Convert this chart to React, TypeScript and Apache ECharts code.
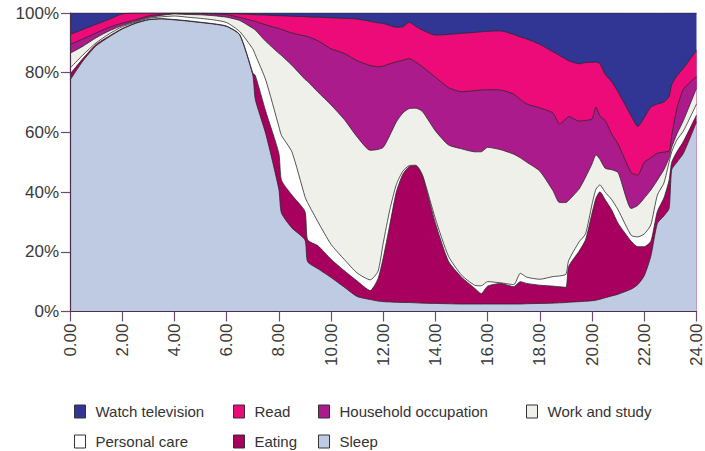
import React, { useEffect, useRef } from "react";
import * as echarts from "echarts";

const times = [0, 0.5, 1, 1.5, 2, 2.5, 3, 3.5, 4, 4.5, 5, 5.5, 6, 6.5, 7, 7.1, 7.5, 8, 8.1, 8.5, 9, 9.1, 9.5, 10, 10.5, 11, 11.5, 11.8, 12, 12.25, 12.5, 12.75, 13, 13.25, 13.5, 14, 14.5, 15, 15.5, 15.75, 16, 16.5, 17, 17.25, 17.5, 18, 18.5, 18.75, 19, 19.1, 19.5, 19.75, 20, 20.15, 20.3, 20.5, 20.75, 21, 21.5, 21.75, 22, 22.25, 22.5, 22.75, 22.95, 23.05, 23.25, 23.5, 24];

const sleep = [77.5, 84.0, 89.0, 92.0, 94.6, 96.5, 97.7, 98.0, 97.7, 97.3, 96.8, 96.3, 95.5, 92.7, 79.3, 71.0, 59.5, 41.0, 33.0, 28.0, 24.0, 16.7, 14.3, 11.4, 8.2, 5.0, 4.0, 3.5, 3.3, 3.2, 3.1, 3.0, 3.0, 2.9, 2.8, 2.7, 2.6, 2.5, 2.5, 2.5, 2.5, 2.5, 2.5, 2.5, 2.6, 2.7, 2.8, 2.9, 3.0, 3.1, 3.3, 3.4, 3.6, 3.8, 4.1, 4.6, 5.2, 5.8, 7.5, 9.0, 12.0, 18.5, 29.5, 32.0, 34.5, 47.5, 50.0, 53.0, 63.5];
const eating = [2.0, 0.8, 0.5, 0.3, 0.2, 0.1, 0.1, 0.1, 0.1, 0.1, 0.1, 0.1, 0.1, 0.1, 0.7, 8.0, 7.5, 12.0, 11.0, 11.0, 9.5, 7.3, 7.7, 6.1, 5.5, 5.2, 3.0, 7.5, 14.7, 25.8, 36.9, 43.0, 45.6, 45.9, 42.7, 26.8, 14.2, 9.0, 5.3, 3.5, 6.0, 6.9, 5.8, 7.5, 6.8, 6.1, 5.7, 5.4, 5.1, 11.9, 16.9, 20.6, 29.4, 34.2, 36.0, 32.9, 28.8, 23.7, 16.0, 12.7, 9.7, 5.0, 4.0, 6.0, 9.5, 2.5, 3.5, 4.0, 2.3];
const personalCare = [2.0, 1.2, 0.5, 0.7, 0.6, 0.3, 0.4, 0.6, 1.2, 1.2, 1.3, 1.3, 1.2, 1.0, 8.0, 7.0, 10.5, 9.0, 15.0, 14.5, 5.0, 12.5, 8.0, 5.0, 3.8, 2.7, 3.6, 2.5, 5.0, 5.0, 2.5, 1.0, 0.3, 0.2, 0.3, 1.5, 1.7, 0.7, 1.0, 2.6, 1.5, 0.2, 0.7, 2.8, 2.1, 2.0, 3.2, 3.6, 4.4, 2.0, 3.1, 2.0, 3.0, 3.0, 2.3, 2.5, 3.5, 4.5, 2.0, 3.3, 4.3, 5.5, 5.5, 5.0, 6.0, 3.5, 4.0, 3.5, 3.7];
const workStudy = [5.0, 2.9, 1.7, 1.0, 0.4, 0.3, 0.3, 0.5, 0.7, 0.9, 1.2, 1.4, 1.8, 3.7, 6.9, 8.3, 13.0, 24.5, 26.8, 29.0, 39.3, 40.6, 43.5, 46.7, 46.9, 45.6, 43.4, 40.8, 32.0, 25.0, 21.0, 19.5, 19.1, 19.1, 21.2, 29.5, 37.3, 42.3, 44.7, 44.9, 45.0, 44.6, 43.7, 38.7, 38.5, 36.2, 28.8, 24.6, 24.0, 20.2, 17.7, 19.0, 13.5, 11.5, 8.6, 8.0, 10.0, 12.5, 9.0, 10.5, 12.0, 11.7, 5.0, 4.5, 1.5, 1.5, 2.0, 3.5, 5.3];
const household = [3.0, 2.4, 1.6, 1.2, 0.8, 0.5, 0.5, 0.4, 0.2, 0.3, 0.4, 0.6, 0.9, 1.0, 2.5, 2.9, 5.5, 8.3, 8.7, 10.8, 14.5, 15.0, 17.2, 18.8, 22.1, 25.5, 28.4, 27.7, 27.2, 24.0, 20.1, 17.7, 16.7, 15.4, 15.0, 18.0, 19.2, 19.1, 20.5, 20.7, 19.3, 20.0, 20.1, 19.5, 19.5, 21.2, 26.0, 26.3, 28.0, 28.1, 22.8, 19.0, 15.0, 16.0, 14.5, 16.0, 12.0, 9.5, 12.0, 10.2, 12.0, 10.8, 9.0, 5.9, 2.3, 4.0, 8.5, 10.5, 3.9];
const readBooks = [3.3, 3.2, 2.9, 2.7, 3.1, 2.3, 1.0, 0.4, 0.1, 0.2, 0.2, 0.2, 0.3, 1.2, 2.1, 2.2, 3.3, 4.3, 4.6, 5.6, 6.5, 6.6, 7.9, 10.4, 11.7, 14.0, 14.8, 14.7, 14.3, 12.8, 11.6, 11.2, 12.2, 12.0, 12.3, 14.1, 17.8, 19.6, 19.5, 19.5, 19.6, 19.8, 20.0, 21.0, 21.8, 21.3, 20.5, 23.0, 20.0, 18.7, 19.2, 19.4, 19.0, 15.1, 17.5, 15.5, 17.5, 17.5, 19.0, 16.3, 15.0, 17.0, 16.5, 16.8, 18.2, 17.0, 11.0, 7.0, 8.8];
const television = [7.2, 5.5, 3.8, 2.1, 0.3, 0, 0, 0, 0, 0, 0, 0.1, 0.2, 0.3, 0.5, 0.6, 0.7, 0.9, 0.9, 1.1, 1.2, 1.3, 1.4, 1.6, 1.8, 2.0, 2.8, 3.3, 3.5, 4.2, 4.8, 4.6, 3.1, 4.5, 5.7, 7.4, 7.2, 6.8, 6.5, 6.3, 6.1, 6.0, 7.2, 8.0, 8.7, 10.5, 13.0, 14.2, 15.5, 16.0, 17.0, 16.6, 16.5, 16.4, 17.0, 20.5, 23.0, 26.5, 34.5, 38.0, 35.0, 31.5, 30.5, 29.8, 28.0, 24.0, 21.0, 18.5, 12.5];

const yTicks = ["0%", "20%", "40%", "60%", "80%", "100%"];

// bottom-to-top stacking order
const seriesNames = ["Sleep", "Eating", "Personal care", "Work and study", "Household occupation", "Read", "Watch television"];
const seriesValues = [sleep, eating, personalCare, workStudy, household, readBooks, television];
const seriesColors = ["#bfcbe3", "#a8005f", "#ffffff", "#eff0ea", "#ac1b8b", "#ec0b78", "#313594"];

const legendLayout = [
  { name: "Watch television", left: 74, top: 404 },
  { name: "Read", left: 233, top: 404 },
  { name: "Household occupation", left: 318, top: 404 },
  { name: "Work and study", left: 526, top: 404 },
  { name: "Personal care", left: 74, top: 434 },
  { name: "Eating", left: 233, top: 434 },
  { name: "Sleep", left: 318, top: 434 },
];

const FONT = "'Liberation Sans', Arial, Helvetica, sans-serif";

export default function App() {
  const ref = useRef<HTMLDivElement>(null);
  useEffect(() => {
    if (!ref.current) return;
    const chart = echarts.init(ref.current, null, { renderer: "svg" });
    // cumulative tops (stacking), each area filled down to 0; upper layers drawn first
    const running = times.map(() => 0);
    const cumulative = seriesValues.map((vals) =>
      vals.map((v, j) => {
        running[j] = +(running[j] + v).toFixed(2);
        return Math.min(100, running[j]);
      })
    );
    const series = seriesNames
      .map((name, i) => ({
        name,
        type: "line",
        data: times.map((t, j) => [t, cumulative[i][j]]),
        showSymbol: false,
        smooth: 0.2,
        color: seriesColors[i],
        lineStyle: { color: "#2b2b2b", width: 0.8 },
        areaStyle: { color: seriesColors[i], opacity: 1, origin: "start" },
        emphasis: { disabled: true },
      }))
      .reverse();
    const legends = legendLayout.map((l) => {
      const idx = seriesNames.indexOf(l.name);
      return {
        left: l.left,
        top: l.top,
        padding: 0,
        icon: "rect",
        itemWidth: 11,
        itemHeight: 13,
        selectedMode: false,
        textStyle: { fontSize: 15, color: "#333", fontFamily: FONT, padding: [0, 0, 0, 5] },
        itemStyle: { borderColor: "#333", borderWidth: 1 },
        data: [{ name: l.name, itemStyle: { color: seriesColors[idx], borderColor: "#333", borderWidth: 1 } }],
      };
    });
    chart.setOption({
      animation: false,
      backgroundColor: "#ffffff",
      grid: { left: 70, right: 6, top: 13, bottom: 139.5, containLabel: false },
      legend: legends,
      xAxis: {
        type: "value",
        min: 0,
        max: 24,
        interval: 2,
        z: 10,
        axisLine: { show: true, lineStyle: { color: "#4a2e4a", width: 1.2 } },
        axisTick: { show: true, length: 10, lineStyle: { color: "#6e4a6e", width: 1.2 } },
        splitLine: { show: false },
        axisLabel: {
          rotate: 90,
          margin: 12,
          fontSize: 17,
          color: "#3a3a3a",
          fontFamily: FONT,
          formatter: (v: number) => v.toFixed(2),
        },
      },
      yAxis: {
        type: "value",
        min: 0,
        max: 100,
        interval: 20,
        z: 10,
        axisLine: { show: true, lineStyle: { color: "#4a2e4a", width: 1.2 } },
        axisTick: { show: true, length: 9, lineStyle: { color: "#6e4a6e", width: 1.2 } },
        splitLine: { show: false },
        axisLabel: {
          margin: 11,
          fontSize: 17,
          color: "#3a3a3a",
          fontFamily: FONT,
          formatter: (v: number) => yTicks[Math.round(v / 20)] ?? "",
        },
      },
      series,
    });
    return () => chart.dispose();
  }, []);
  return (
    <div
      ref={ref}
      style={{ position: "fixed", left: 0, top: 0, width: 705, height: 451, background: "#fff" }}
    />
  );
}
